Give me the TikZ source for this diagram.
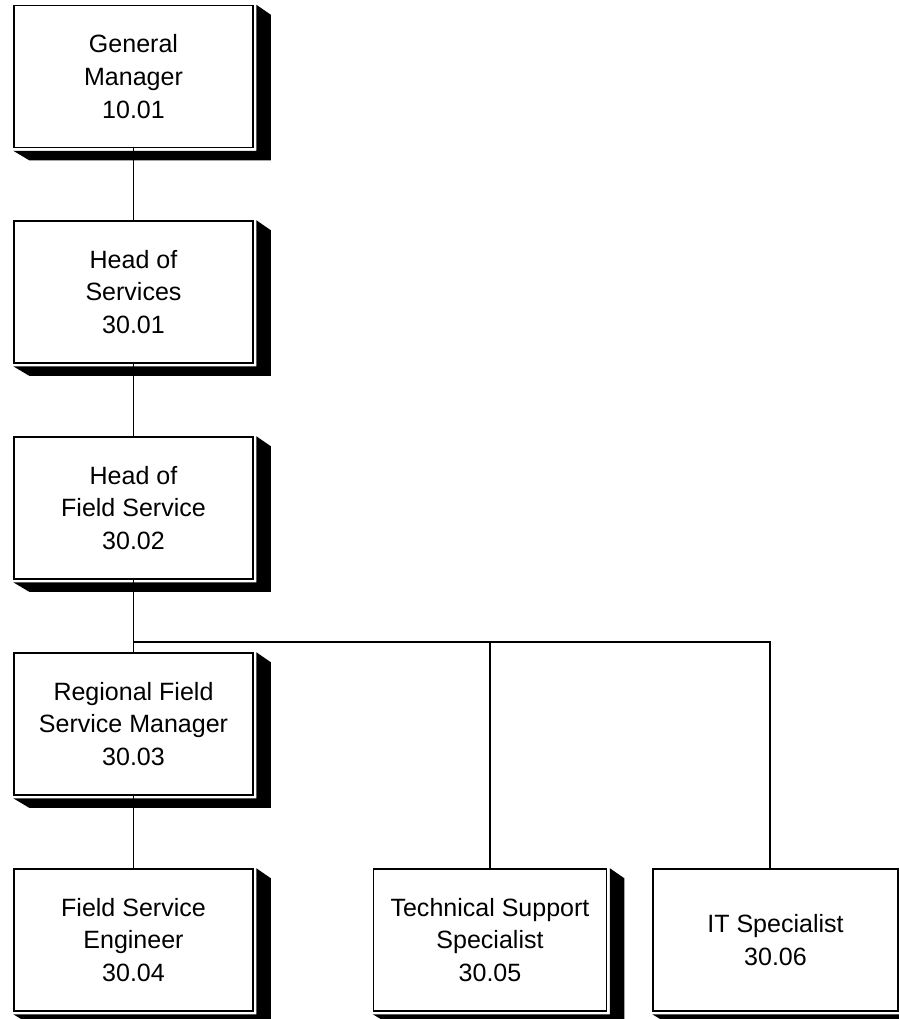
\documentclass[tikz,border=0pt]{standalone}
\usepackage{fontspec}
\setmainfont{Liberation Sans}
\usetikzlibrary{calc}
\tikzset{
      posbox/.style={
          rectangle,
          draw=black,
          fill=white,
          line width=1.1pt,
          preaction={draw=white, line width=3.4pt},
          minimum width=59.75mm,
          minimum height=35.5mm,
          align=center,
          inner sep=0pt,
          font=\fontsize{17.8}{23.4}\selectfont
      },
      link/.style={
          draw=black,
          line width=0.95pt
      }
  }

\begin{document}
\begin{tikzpicture}[x=0.25mm,y=-0.25mm]
    \useasboundingbox (0,0) rectangle (899,1019);

    \node [posbox] (n1) at (133.5,76.5) {General\\Manager\\10.01};
    \node [posbox] (n2) at (133.5,292) {Head of\\Services\\30.01};
    \node [posbox] (n3) at (133.5,508) {Head of\\Field Service\\30.02};
    \node [posbox] (n4) at (133.5,724) {Regional Field\\Service Manager\\30.03};
    \node [posbox] (n5) at (133.5,940) {Field Service\\Engineer\\30.04};
    \node [posbox, minimum width=58.25mm] (n6) at (490,940) {Technical Support\\Specialist\\30.05};
    \node [posbox, minimum width=61.25mm] (n7) at (775.5,940) {IT Specialist\\30.06};

    %% shadows
    \foreach \n in {n1,n2,n3,n4,n5,n6,n7}{
        \fill ($(\n.north east)+(2.5,0)$) -- ($(\n.north east)+(17,10)$)
            -- ($(\n.south east)+(17,12)$) -- ($(\n.south west)+(16,12)$)
            -- ($(\n.south west)+(0,2.5)$) -- ($(\n.south east)+(2.5,2.5)$) -- cycle;
    }

    %% lines
    \coordinate (bus) at (133.5,642);
    \draw[link] (n1) -- (n2);
    \draw[link] (n2) -- (n3);
    \draw[link] (n3) -- (n4);
    \draw[link] (n4) -- (n5);
    \draw[link] (bus) -| (n6.north);
    \draw[link] (bus) -| ([xshift=-1.4mm]n7.north);

\end{tikzpicture}
\end{document}
